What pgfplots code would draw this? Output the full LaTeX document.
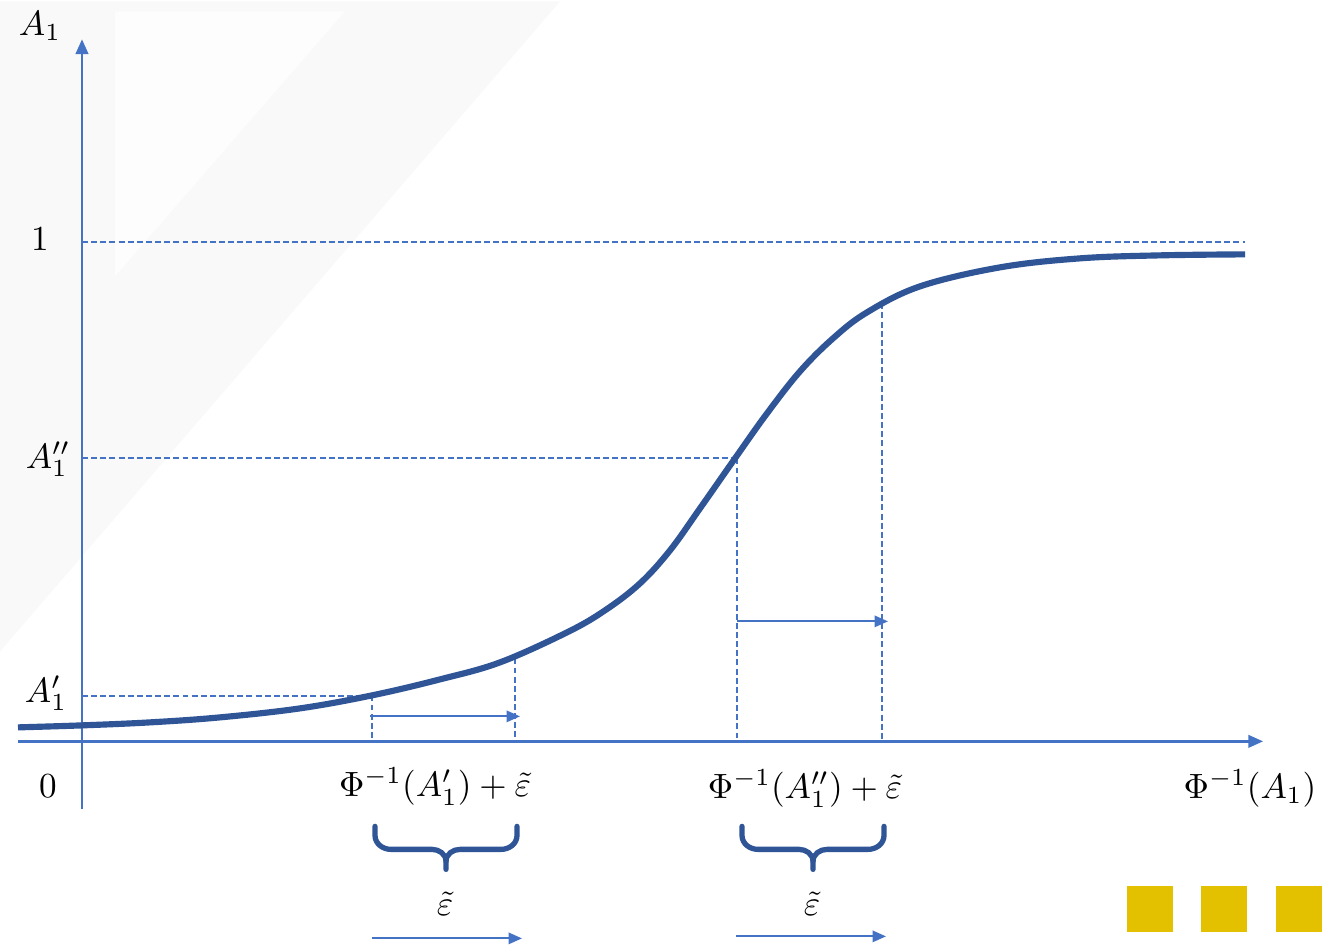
\documentclass[border=0pt]{standalone}
\usepackage{pgfplots}
\pgfplotsset{compat=1.18}
\usetikzlibrary{arrows.meta}
\definecolor{axisblue}{HTML}{4472C4}
\definecolor{curveblue}{HTML}{2F5597}
\definecolor{gold}{HTML}{E3C000}
\definecolor{haze}{HTML}{F9F9F9}
\begin{document}
\begin{tikzpicture}
\begin{axis}[
  scale only axis, width=13.29cm, height=9.45cm,
  xmin=0, xmax=1329, ymin=0, ymax=945, y dir=reverse,
  hide axis, clip=false,
  every node/.style={font=\fontsize{11.5}{14}\selectfont},
]
% canvas and faint background shape
\addplot[draw=none, fill=white] coordinates {(0,0) (1329,0) (1329,945) (0,945) (0,0)};
\addplot[draw=none, fill=haze] coordinates {(0,0) (560,0) (0,650) (0,0)};
\addplot[draw=none, fill=white!60!haze] coordinates {(115,10) (345,10) (115,275) (115,10)};

% axes
\addplot[axisblue, line width=0.65pt, -{Triangle[length=4.2pt,width=3.6pt]}] coordinates {(82,808) (82,38)};
\addplot[axisblue, line width=0.65pt, -{Triangle[length=4.2pt,width=3.6pt]}] coordinates {(18,740) (1263,740)};

% dashed guide lines
\pgfplotsset{guide/.style={color=axisblue, line width=0.5pt, dash pattern=on 1.7pt off 0.9pt}}
\addplot[guide] coordinates {(82,240.5) (1245,240.5)};
\addplot[guide] coordinates {(82,457) (737,457)};
\addplot[guide] coordinates {(82,694.5) (372,694.5)};
\addplot[guide] coordinates {(372,694) (372,740)};
\addplot[guide] coordinates {(515,657) (515,740)};
\addplot[guide] coordinates {(737,457) (737,740)};
\addplot[guide] coordinates {(882,302) (882,740)};

% sigmoid curve
\addplot[curveblue, line width=1.75pt, smooth, tension=0.6] coordinates {
 (18,726) (82,724) (150,721) (220,716) (300,707) (372,694) (440,678)
 (500,661) (567,631) (605,609) (640,582) (670,549) (700,507) (735,457) (767,412)
 (800,370) (833,337) (867,311) (920,285) (1000,266) (1080,257)
 (1160,254) (1245,253)};

% shift arrows
\pgfplotsset{shift/.style={axisblue, line width=0.6pt, -{Triangle[length=3.8pt,width=3.2pt]}}}
\addplot[shift] coordinates {(370,715) (520,715)};
\addplot[shift] coordinates {(737,620) (888,620)};
\addplot[shift] coordinates {(372,937) (522,937)};
\addplot[shift] coordinates {(736,935) (886,935)};

% labels
\node at (axis cs:40,25) {$A_1$};
\node at (axis cs:40,238) {$1$};
\node at (axis cs:48,458) {$A_1''$};
\node at (axis cs:46,692) {$A_1'$};
\node at (axis cs:48,785) {$0$};
\node at (axis cs:435,785) {$\Phi^{-1}(A_1')+\tilde{\varepsilon}$};
\node at (axis cs:805,787) {$\Phi^{-1}(A_1'')+\tilde{\varepsilon}$};
\node at (axis cs:1250,787) {$\Phi^{-1}(A_1)$};
\node at (axis cs:445,902) {$\tilde{\varepsilon}$};
\node at (axis cs:812,902) {$\tilde{\varepsilon}$};

% braces
\draw[curveblue, line width=1.5pt, line cap=round]
  (axis cs:375,825) -- (axis cs:375,834) to[out=-90,in=180] (axis cs:391,848)
  -- (axis cs:432,848) to[out=0,in=90] (axis cs:446,860) -- (axis cs:446,868);
\draw[curveblue, line width=1.5pt, line cap=round]
  (axis cs:517,825) -- (axis cs:517,834) to[out=-90,in=0] (axis cs:501,848)
  -- (axis cs:460,848) to[out=180,in=90] (axis cs:446,860);
\draw[curveblue, line width=1.5pt, line cap=round]
  (axis cs:742,825) -- (axis cs:742,834) to[out=-90,in=180] (axis cs:758,848)
  -- (axis cs:799,848) to[out=0,in=90] (axis cs:813,860) -- (axis cs:813,868);
\draw[curveblue, line width=1.5pt, line cap=round]
  (axis cs:884,825) -- (axis cs:884,834) to[out=-90,in=0] (axis cs:868,848)
  -- (axis cs:827,848) to[out=180,in=90] (axis cs:813,860);

% page marker squares
\fill[gold] (axis cs:1127,885) rectangle (axis cs:1173,931);
\fill[gold] (axis cs:1201,885) rectangle (axis cs:1247,931);
\fill[gold] (axis cs:1276,885) rectangle (axis cs:1322,931);
\end{axis}
\end{tikzpicture}
\end{document}
